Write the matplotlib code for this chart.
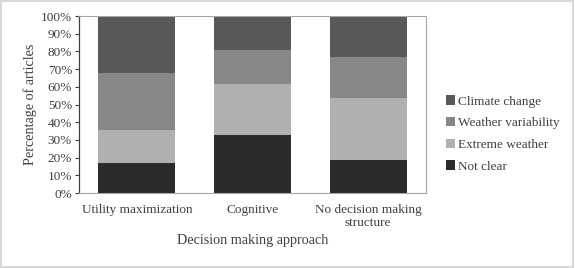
import matplotlib.pyplot as plt
from matplotlib.patches import Rectangle

plt.rcParams['font.family'] = ['Liberation Serif', 'DejaVu Serif']

categories = ['Utility maximization', 'Cognitive', 'No decision making\nstructure']
series_names = ['Not clear', 'Extreme weather', 'Weather variability', 'Climate change']
not_clear = [16.8, 32.9, 18.5]
extreme_weather = [18.6, 28.9, 35.3]
weather_variability = [32.2, 19.0, 23.0]
climate_change = [32.4, 19.2, 23.2]
colors = ['#2b2b2b', '#b0b0b0', '#878787', '#595959']

fig = plt.figure(figsize=(5.75, 2.68), dpi=100)
ax = fig.add_axes([79 / 575, 1 - 193 / 268, 347 / 575, 177 / 268])

x = range(len(categories))
bottom = [0, 0, 0]
handles = []
for name, vals, col in zip(series_names,
                           [not_clear, extreme_weather, weather_variability, climate_change],
                           colors):
    b = ax.bar(x, vals, bottom=bottom, width=0.665, color=col, label=name)
    handles.append(b)
    bottom = [bo + v for bo, v in zip(bottom, vals)]

ax.set_xlim(-0.5, 2.5)
ax.set_ylim(0, 100)
ax.set_yticks(range(0, 101, 10))
ax.set_yticklabels([f'{v}%' for v in range(0, 101, 10)], fontsize=9.5)
ax.set_xticks(list(x))
ax.set_xticklabels(categories, fontsize=9.5, linespacing=1.05)
ax.tick_params(axis='x', length=0, pad=8, colors='#404040')
ax.tick_params(axis='y', length=3, width=0.8, direction='out', colors='#404040', pad=2)
for s in ['top', 'right', 'bottom']:
    ax.spines[s].set_color('#a6a6a6')
    ax.spines[s].set_linewidth(0.8)
ax.spines['left'].set_color('#404040')
ax.spines['left'].set_linewidth(0.9)
ax.set_ylabel('Percentage of articles', fontsize=10.2, color='#404040', labelpad=3)
ax.set_xlabel('Decision making approach', fontsize=10.2, color='#404040', labelpad=4)

leg = fig.legend(handles[::-1], series_names[::-1], loc='center left',
                 bbox_to_anchor=(434 / 575, 1 - 134 / 268), frameon=False,
                 fontsize=9.5, handlelength=0.7, handleheight=0.7,
                 handletextpad=0.2, labelspacing=0.72, labelcolor='#404040')

fig.patches.append(Rectangle((0.002, 0.004), 0.995, 0.991, transform=fig.transFigure,
                             fill=False, edgecolor='#d9d9d9', linewidth=1.5))

fig.savefig('out.png', dpi=100)
